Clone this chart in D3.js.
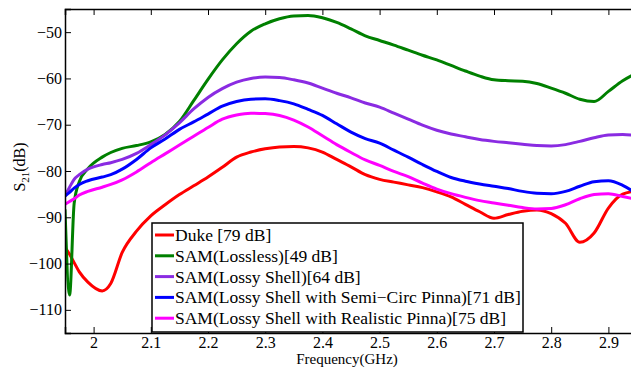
<!DOCTYPE html>
<html><head><meta charset="utf-8">
<script src="https://cdn.jsdelivr.net/npm/d3@7"></script>
<style>body{margin:0;background:#fff;} svg{display:block;}</style>
</head><body><svg id="c" width="631" height="368"></svg>
<script>
const freq = [1.95,1.958,1.966,1.975,1.99,2.015,2.03,2.05,2.075,2.1,2.125,2.15,2.175,2.2,2.225,2.25,2.275,2.3,2.325,2.35,2.375,2.4,2.425,2.45,2.475,2.5,2.525,2.55,2.575,2.6,2.625,2.65,2.675,2.7,2.725,2.75,2.775,2.8,2.825,2.85,2.875,2.9,2.925,2.95];
const duke = [-96.5,-98.0,-99.8,-101.8,-104.0,-105.9,-104.3,-97.6,-93.0,-89.7,-87.3,-85.1,-83.2,-81.3,-79.2,-77.0,-75.9,-75.2,-74.8,-74.7,-75.0,-75.9,-77.5,-79.1,-80.8,-81.8,-82.4,-83.0,-83.6,-84.5,-85.6,-87.2,-88.8,-90.2,-89.4,-88.7,-88.4,-89.2,-91.3,-95.4,-93.4,-88.0,-85.0,-84.3];
const lossless = [-88.3,-106.8,-87.0,-82.3,-79.5,-77.0,-76.0,-75.1,-74.5,-73.7,-72.1,-69.3,-64.8,-60.2,-56.0,-52.5,-49.8,-48.2,-47.1,-46.5,-46.4,-46.9,-47.9,-49.3,-50.8,-51.8,-52.8,-53.9,-55.0,-56.0,-57.2,-58.4,-59.5,-60.3,-60.5,-60.6,-61.1,-62.1,-63.2,-64.5,-65.0,-62.8,-60.5,-58.8];
const lossyShell = [-85.4,-83.5,-81.8,-80.8,-79.6,-78.6,-78.2,-77.5,-76.2,-74.3,-72.2,-69.6,-66.6,-64.1,-62.2,-60.8,-60.0,-59.7,-59.8,-60.3,-61.0,-62.1,-63.2,-64.2,-65.3,-66.2,-67.5,-68.8,-70.1,-71.2,-72.0,-72.6,-73.2,-73.6,-73.9,-74.2,-74.5,-74.6,-74.3,-73.6,-72.8,-72.2,-72.1,-72.4];
const semiCirc = [-85.4,-84.6,-83.7,-82.9,-82.1,-81.3,-80.8,-79.6,-77.5,-75.0,-73.1,-71.0,-69.4,-67.7,-66.0,-65.0,-64.5,-64.4,-64.8,-65.5,-66.7,-68.0,-69.8,-71.6,-73.0,-74.0,-75.5,-77.0,-78.6,-80.1,-81.4,-82.2,-82.8,-83.3,-83.8,-84.4,-84.8,-84.9,-84.4,-83.3,-82.3,-82.1,-83.1,-85.0];
const realistic = [-87.2,-86.6,-86.0,-85.2,-84.4,-83.5,-82.9,-81.9,-80.2,-78.2,-76.3,-74.4,-72.5,-70.6,-68.8,-67.9,-67.5,-67.6,-68.0,-69.0,-70.5,-72.4,-74.3,-76.0,-77.6,-78.8,-80.1,-81.2,-82.6,-83.9,-84.9,-85.7,-86.4,-86.9,-87.4,-87.9,-88.2,-88.1,-87.3,-86.0,-85.1,-84.9,-85.5,-86.2];
const seriesNames = ["Duke [79 dB]","SAM(Lossless)[49 dB]","SAM(Lossy Shell)[64 dB]","SAM(Lossy Shell with Semi\u2212Circ Pinna)[71 dB]","SAM(Lossy Shell with Realistic Pinna)[75 dB]"];
const seriesColors = ["#ff0000","#008000","#8a2be2","#0000ff","#ff00ff"];
const xTicks = [2,2.1,2.2,2.3,2.4,2.5,2.6,2.7,2.8,2.9];
const yTicks = [-50,-60,-70,-80,-90,-100,-110];

const series = [duke, lossless, lossyShell, semiCirc, realistic];
const svg = d3.select("#c");
const L = 65, T = 9, B = 333, R = 637;
const x = d3.scaleLinear().domain([1.95, 2.95]).range([L, R]);
const y = d3.scaleLinear().domain([-115, -45]).range([B, T]);
const font = "'Liberation Serif','Times New Roman',serif";
const fmt = d => (d < 0 ? "\u2212" + Math.abs(d) : String(d));

svg.append("clipPath").attr("id","clip").append("rect").attr("x",L).attr("y",T).attr("width",R-L).attr("height",B-T);

const line = d3.line().x((d,i)=>x(freq[i])).y(d=>y(d)).curve(d3.curveMonotoneX);
const g = svg.append("g").attr("clip-path","url(#clip)");
series.forEach((s,k)=>{
  g.append("path").attr("d", line(s)).attr("fill","none").attr("stroke",seriesColors[k]).attr("stroke-width",3).attr("stroke-linejoin","round");
});

// axes
const axB = d3.axisBottom(x).tickValues(xTicks).tickSize(-6).tickPadding(4).tickFormat(d=>d3.format("")(d));
const axT = d3.axisTop(x).tickValues(xTicks).tickSize(-6).tickFormat("");
const axL = d3.axisLeft(y).tickValues(yTicks).tickSize(-6).tickPadding(3).tickFormat(fmt);
const gb = svg.append("g").attr("transform",`translate(0,${B})`).call(axB);
const gt = svg.append("g").attr("transform",`translate(0,${T})`).call(axT);
const gl = svg.append("g").attr("transform",`translate(${L},0)`).call(axL);
[gb,gt,gl].forEach(a=>{
  a.select(".domain").attr("stroke","#000").attr("stroke-width",1.5);
  a.selectAll(".tick line").attr("stroke","#000").attr("stroke-width",1);
  a.selectAll("text").attr("font-family",font).attr("font-size",16).attr("fill","#000");
});

// axis labels
svg.append("text").attr("x",347).attr("y",364).attr("text-anchor","middle").attr("font-family",font).attr("font-size",15).text("Frequency(GHz)");
const yl = svg.append("text").attr("transform","translate(25,167) rotate(-90)").attr("text-anchor","middle").attr("font-family",font).attr("font-size",16);
yl.append("tspan").text("S");
yl.append("tspan").attr("font-size",11).attr("dy",4).text("21");
yl.append("tspan").attr("dy",-4).text("(dB)");

// legend
const lg = svg.append("g");
lg.append("rect").attr("x",152).attr("y",223).attr("width",371).attr("height",109).attr("fill","#fff").attr("stroke","#000").attr("stroke-width",1.5);
seriesNames.forEach((n,k)=>{
  const cy = 235 + k*20.8;
  lg.append("line").attr("x1",155).attr("x2",174).attr("y1",cy).attr("y2",cy).attr("stroke",seriesColors[k]).attr("stroke-width",3);
  lg.append("text").attr("x",175).attr("y",cy+6).attr("font-family",font).attr("font-size",17.5).attr("fill","#000").text(n);
});
</script></body></html>
